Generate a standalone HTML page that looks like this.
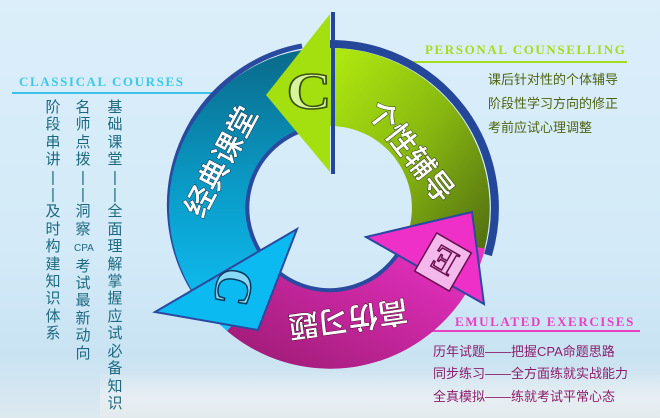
<!DOCTYPE html>
<html><head><meta charset="utf-8"><style>
html,body{margin:0;padding:0}
body{width:660px;height:418px;overflow:hidden;position:relative;background:linear-gradient(180deg,#dbeefa 0%,#d3eaf8 60%,#c9e3f3 85%,#dde9ef 100%);font-family:"Liberation Sans","Noto Sans CJK SC",sans-serif}
.h{position:absolute;font-family:"Liberation Serif",serif;font-weight:bold;font-size:13px;letter-spacing:1.6px;white-space:nowrap}
.ln{position:absolute;height:2px}
.t{position:absolute;font-size:13px;white-space:nowrap;font-family:"Liberation Sans","Noto Sans CJK SC",sans-serif}
.v{position:absolute;width:18px;font-size:15px;line-height:17.4px;color:#1d6a80;text-align:center;font-family:"Liberation Sans","Noto Sans CJK SC",sans-serif}
</style></head><body>
<div style="position:absolute;left:100px;top:370px;width:560px;height:48px;background:linear-gradient(180deg,rgba(255,255,255,0) 0%,rgba(235,240,244,.8) 60%,#e3eaee 100%)"></div>

<div class="h" style="left:19px;top:74px;color:#3cc8e8">CLASSICAL COURSES</div>
<div class="ln" style="left:12px;top:92px;width:218px;background:#38c4ea"></div>
<div class="v" style="left:106px;top:99px">基<br>础<br>课<br>堂<br>|<br>|<br>全<br>面<br>理<br>解<br>掌<br>握<br>应<br>试<br>必<br>备<br>知<br>识</div>
<div class="v" style="left:74px;top:99px">名<br>师<br>点<br>拨<br>|<br>|<br>洞<br>察<br><span style="font-size:10px">CPA</span><br>考<br>试<br>最<br>新<br>动<br>向</div>
<div class="v" style="left:44px;top:99px">阶<br>段<br>串<br>讲<br>|<br>|<br>及<br>时<br>构<br>建<br>知<br>识<br>体<br>系</div>

<div class="h" style="left:425px;top:42px;color:#a6dc1e">PERSONAL COUNSELLING</div>
<div class="ln" style="left:405px;top:61px;width:222px;background:#a6dc1e"></div>
<div class="t" style="left:488px;top:69px;color:#4d6412">课后针对性的个体辅导</div>
<div class="t" style="left:488px;top:93px;color:#4d6412">阶段性学习方向的修正</div>
<div class="t" style="left:488px;top:117px;color:#4d6412">考前应试心理调整</div>

<div class="h" style="left:455px;top:314px;color:#ea40c4">EMULATED EXERCISES</div>
<div class="ln" style="left:408px;top:330px;width:232px;background:#ea40c4"></div>
<div class="t" style="left:433px;top:341px;color:#8a1f6a">历年试题——把握CPA命题思路</div>
<div class="t" style="left:433px;top:363px;color:#8a1f6a">同步练习——全方面练就实战能力</div>
<div class="t" style="left:433px;top:386px;color:#8a1f6a">全真模拟——练就考试平常心态</div>

<svg width="660" height="418" style="position:absolute;left:0;top:0">
<defs>
<linearGradient id="gg" x1="0" y1="0" x2="1" y2="1"><stop offset="0" stop-color="#b2ec10"/><stop offset="0.5" stop-color="#88b810"/><stop offset="1" stop-color="#4e6a12"/></linearGradient>
<linearGradient id="bg" x1="0" y1="0" x2="0" y2="1"><stop offset="0" stop-color="#0a6a8a"/><stop offset="0.5" stop-color="#0a9cc8"/><stop offset="1" stop-color="#10c4fa"/></linearGradient>
<linearGradient id="mg" x1="1" y1="0" x2="0" y2="1"><stop offset="0" stop-color="#f434d0"/><stop offset="1" stop-color="#9a1a70"/></linearGradient>
</defs>
<path d="M330,44 A164,164 0 0 1 488,255" fill="none" stroke="#25479a" stroke-width="8"/>
<path d="M330,48 A160,160 0 0 1 482,257 L408,233 A82,82 0 0 0 330,126 Z" fill="url(#gg)"/>
<path d="M227,331 A160,160 0 0 0 485,249 L409,229 A82,82 0 0 1 277,271 Z" fill="url(#mg)"/>
<path d="M409,229 A82,82 0 0 1 277,271" fill="none" stroke="#2a4aa0" stroke-width="4"/>
<polygon points="366,237 472,212 484,304" fill="#ee30c8" stroke="#2a4aa0" stroke-width="2"/>
<path d="M302,46 A162,162 0 0 0 200,300" fill="none" stroke="#2a4aa0" stroke-width="5"/>
<path d="M302,50 A160,160 0 0 0 227,331 L277,271 A82,82 0 0 1 316,127 Z" fill="url(#bg)"/>
<path d="M277,271 A82,82 0 0 1 316,127" fill="none" stroke="#2a4aa0" stroke-width="4"/>
<polygon points="297,229 258,330 155,312" fill="#0cbaf2" stroke="#2a4aa0" stroke-width="2"/>
<polygon points="330,14 330,172 266,95" fill="#a4e010"/>
<line x1="333" y1="12" x2="333" y2="174" stroke="#25479a" stroke-width="4"/>
<g font-family="Liberation Sans,Noto Sans CJK SC,sans-serif" font-weight="bold" fill="#fff" font-size="30">
<text transform="translate(410,152) rotate(52)" text-anchor="middle" dominant-baseline="central" stroke="#2a3a10" stroke-width="0.5">个性辅导</text>
<text transform="translate(222,162) rotate(-62)" text-anchor="middle" dominant-baseline="central" stroke="#0a3050" stroke-width="0.5">经典课堂</text>
<text transform="translate(348,318) rotate(172)" text-anchor="middle" dominant-baseline="central" stroke="#500a30" stroke-width="0.5">高仿习题</text>
</g>
<g font-family="Liberation Serif,serif" font-weight="bold" font-size="52">
<text transform="translate(309,92) scale(1.2,1)" text-anchor="middle" dominant-baseline="central" fill="#d6f49a" stroke="#3a5010" stroke-width="1.5">C</text>
<text transform="translate(233,287) rotate(100)" text-anchor="middle" dominant-baseline="central" fill="#8ad8f8" stroke="#0a3a5a" stroke-width="1.5">C</text>
</g>
<g transform="translate(443,262) rotate(-150)">
<rect x="-20" y="-22" width="40" height="44" fill="#f4b8ec" stroke="#6a1050" stroke-width="1.5"/>
<text x="0" y="2" text-anchor="middle" dominant-baseline="central" font-family="Liberation Serif,serif" font-weight="bold" font-size="36" fill="#f4b8ec" stroke="#6a1050" stroke-width="1.5">E</text>
</g>
</svg>
</body></html>
